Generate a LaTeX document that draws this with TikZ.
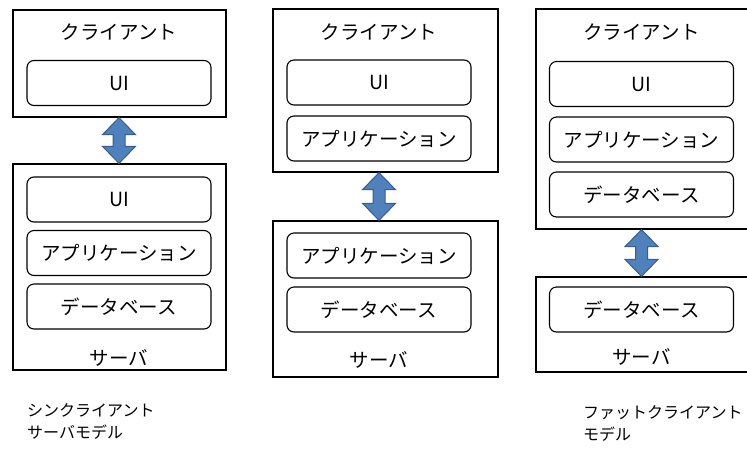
\documentclass[tikz,border=0pt]{standalone}
\usepackage{fontspec}
\setmainfont{Noto Sans CJK JP}
\usetikzlibrary{calc}
\definecolor{arrowfill}{HTML}{4F81BD}
\definecolor{arrowline}{HTML}{385D8A}
\tikzset{
  outerbox/.style={draw=black, line width=1.3pt, rectangle, inner sep=0pt},
  layerbox/.style={draw=black, line width=1.1pt, rounded corners=7pt, rectangle,
    minimum width=184pt, minimum height=45pt, inner sep=0pt, font=\fontsize{19.5}{22}\selectfont},
  boxlabel/.style={inner sep=0pt, font=\fontsize{19.5}{22}\selectfont},
  caption/.style={inner sep=0pt, anchor=north west, align=left, font=\fontsize{16}{22}\selectfont},
  bigarrow/.style={fill=arrowfill, draw=arrowline, line width=1pt, line join=miter}
}
\newcommand{\myUDarrow}[2]{% #1 top tip, #2 bottom tip
  \draw[bigarrow] (#1) -- ++(16.5,17) -- ++(-10.5,0) -- ($(#2)+(6,-17)$) -- ++(10.5,0) -- (#2)
    -- ++(-16.5,-17) -- ++(10.5,0) -- ($(#1)+(-6,17)$) -- ++(-10.5,0) -- cycle;}
\begin{document}
\begin{tikzpicture}[x=1pt,y=-1pt]
\useasboundingbox (0,0) rectangle (747,451);
\clip (0,0) rectangle (747,451);
% ---------- left column: thin client ----------
\node[outerbox, minimum width=213pt, minimum height=107pt] (lc) at (119.5,63.5) {};
\node[boxlabel] (lct) at (119,32) {クライアント};
\node[layerbox] (lcui) at (119,83) {UI};
\node[outerbox, minimum width=213pt, minimum height=206pt] (ls) at (119.5,267) {};
\node[layerbox] (lsui) at (119,199.5) {UI};
\node[layerbox] (lsap) at (119,253) {アプリケーション};
\node[layerbox] (lsdb) at (119,306.5) {データベース};
\node[boxlabel] (lst) at (119,358) {サーバ};
\coordinate (la1) at (lcui |- lc.south);
\coordinate (la2) at (lcui |- ls.north);
\myUDarrow{la1}{la2}
% ---------- middle column ----------
\node[outerbox, minimum width=225pt, minimum height=163pt] (mc) at (385.5,90.5) {};
\node[boxlabel] (mct) at (379,32) {クライアント};
\node[layerbox] (mcui) at (379,82.5) {UI};
\node[layerbox] (mcap) at (379,138.5) {アプリケーション};
\node[outerbox, minimum width=225pt, minimum height=156pt] (ms) at (385.5,299) {};
\node[layerbox] (msap) at (379,255.5) {アプリケーション};
\node[layerbox] (msdb) at (379,309.5) {データベース};
\node[boxlabel] (mst) at (379,360) {サーバ};
\coordinate (ma1) at (mcui |- mc.south);
\coordinate (ma2) at (mcui |- ms.north);
\myUDarrow{ma1}{ma2}
% ---------- right column: fat client ----------
\node[outerbox, minimum width=224pt, minimum height=220pt] (rc) at (648,119) {};
\node[boxlabel] (rct) at (641.5,32) {クライアント};
\node[layerbox] (rcui) at (641.5,84) {UI};
\node[layerbox] (rcap) at (641.5,139.5) {アプリケーション};
\node[layerbox] (rcdb) at (641.5,194.5) {データベース};
\node[outerbox, minimum width=224pt, minimum height=95pt] (rs) at (648,324.5) {};
\node[layerbox] (rsdb) at (641.5,309.5) {データベース};
\node[boxlabel] (rst) at (641.5,357) {サーバ};
\coordinate (ra1) at (rcui |- rc.south);
\coordinate (ra2) at (rcui |- rs.north);
\myUDarrow{ra1}{ra2}
% ---------- captions ----------
\node[caption] (capl) at (27,403) {シンクライアント\\サーバモデル};
\node[caption] (capr) at (583,405) {ファットクライアント\\モデル};
\end{tikzpicture}
\end{document}
